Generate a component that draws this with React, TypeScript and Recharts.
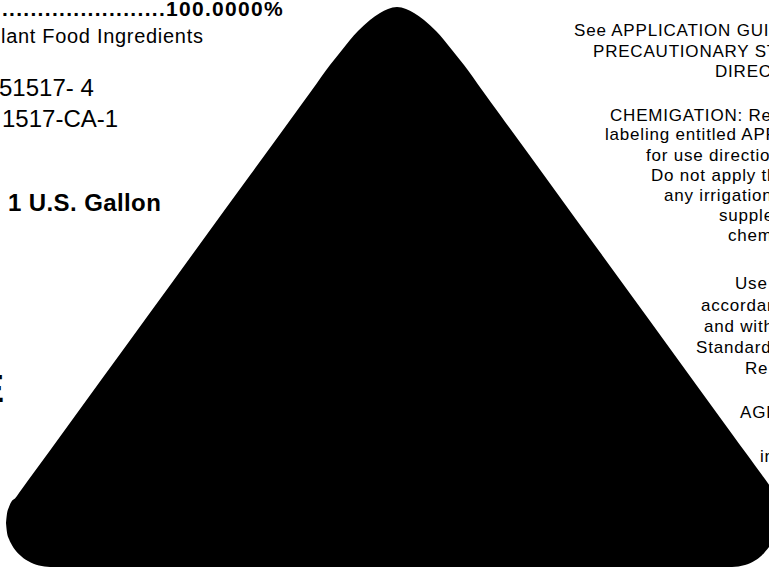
import React from 'react';
import { ComposedChart, Area, XAxis, YAxis } from 'recharts';

// outline of the rounded triangle (x across, height above the bottom edge)
const edgeX = [
  6, 7, 9, 12, 15, 19, 28, 39, 50, 100, 150, 200, 250, 300, 312, 330, 342, 358, 370, 380, 388,
  397, 406, 414, 424, 436, 452, 464, 482, 500, 550, 600, 650, 700, 732, 745, 755, 762, 769,
];
const edgeTop = [
  46, 55.4, 62, 68.2, 70.5, 76, 88.4, 103.5, 118.6, 187.4, 256.2, 325, 393.7, 462.5, 479, 504, 519,
  538, 549, 556, 560, 562, 560, 556, 549, 538, 519, 504, 479, 454.2, 385.5, 316.7, 248, 179.1,
  135.1, 117.2, 103.5, 93.9, 84.2,
];
const edgeBottom = [
  46, 36.6, 30, 23.8, 19.3, 14.8, 7.9, 3.4, 2, 2, 2, 2, 2, 2, 2, 2, 2, 2, 2, 2, 2, 2, 2, 2, 2, 2,
  2, 2, 2, 2, 2, 2, 2, 2, 2, 4, 8.5, 13.8, 22,
];

const leftLines = [
  { text: '..............................100.0000%', x: 284, y: 16, size: 21, bold: true, ls: 1.3, anchor: 'end' },
  { text: 'lant Food Ingredients', x: 1, y: 43, size: 20, bold: false, ls: 0.7, anchor: 'start' },
  { text: '51517- 4', x: -1, y: 96, size: 24, bold: false, ls: 0, anchor: 'start' },
  { text: '1517-CA-1', x: 2, y: 127, size: 24, bold: false, ls: 0, anchor: 'start' },
  { text: '1 U.S. Gallon', x: 8, y: 211, size: 24, bold: true, ls: 0.4, anchor: 'start' },
  { text: 'E', x: 4, y: 402, size: 38, bold: true, ls: 0, anchor: 'end' },
];

const rightLines = [
  { text: 'See APPLICATION GUIDE', x: 574, y: 36 },
  { text: 'PRECAUTIONARY STATEMENTS', x: 593, y: 57 },
  { text: 'DIRECTIONS', x: 715, y: 77 },
  { text: 'CHEMIGATION: Refer', x: 610, y: 121 },
  { text: 'labeling entitled APPLICATION', x: 605, y: 140 },
  { text: 'for use directions', x: 646, y: 161 },
  { text: 'Do not apply this', x: 651, y: 181 },
  { text: 'any irrigation system', x: 664, y: 201 },
  { text: 'supplemental', x: 719, y: 221 },
  { text: 'chemigation', x: 728, y: 241 },
  { text: 'Use', x: 735, y: 289 },
  { text: 'accordance', x: 701, y: 311 },
  { text: 'and with', x: 704, y: 332 },
  { text: 'Standards', x: 696, y: 353 },
  { text: 'Re', x: 745, y: 374 },
  { text: 'AGRICULTURAL', x: 740, y: 418 },
  { text: 'in', x: 760, y: 462 },
];

const data = edgeX.map((x, i) => ({ x, band: [edgeBottom[i], edgeTop[i]] }));

const font = '"Liberation Sans", Arial, sans-serif';

export default function App() {
  return (
    <div style={{ position: 'absolute', left: 0, top: 0, width: 769, height: 569, overflow: 'hidden', background: '#fff' }}>
      <ComposedChart width={769} height={569} data={data} margin={{ top: 0, right: 0, bottom: 0, left: 0 }}>
        <XAxis dataKey="x" type="number" domain={[0, 769]} hide allowDataOverflow />
        <YAxis type="number" domain={[0, 569]} hide allowDataOverflow />
        <Area
          dataKey="band"
          type="monotone"
          fill="#000"
          fillOpacity={1}
          stroke="none"
          isAnimationActive={false}
        />
      </ComposedChart>
      <svg width={769} height={569} style={{ position: 'absolute', left: 0, top: 0 }}>
        {leftLines.map((l, i) => (
          <text
            key={i}
            x={l.x}
            y={l.y}
            textAnchor={l.anchor}
            fontFamily={font}
            fontSize={l.size}
            fontWeight={l.bold ? 700 : 400}
            letterSpacing={l.ls}
            fill="#000"
          >
            {l.text}
          </text>
        ))}
        {rightLines.map((l, i) => (
          <text key={'r' + i} x={l.x} y={l.y} fontFamily={font} fontSize={17} letterSpacing={0.8} fill="#000">
            {l.text}
          </text>
        ))}
      </svg>
    </div>
  );
}
